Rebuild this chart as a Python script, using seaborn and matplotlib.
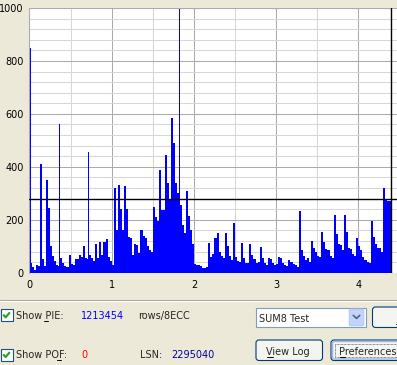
import numpy as np
import pandas as pd
import matplotlib
matplotlib.use("Agg")
import matplotlib.pyplot as plt
import seaborn as sns
from matplotlib.patches import Rectangle, FancyBboxPatch

# ---------------- data ----------------
BIN = 0.025  # width of one PIE bin on the x axis
pie_per_bin = [
    35, 20, 12, 30, 25, 410, 50, 25, 352, 245, 100, 63, 45, 30, 25, 55,
    35, 25, 20, 67, 32, 30, 50, 53, 67, 58, 100, 55, 50, 67, 55, 45,
    110, 55, 117, 65, 115, 127, 60, 45, 30, 321, 160, 331, 240, 160, 328, 240,
    135, 130, 65, 110, 105, 73, 160, 140, 130, 100, 85, 79, 250, 210, 195, 388,
    237, 235, 444, 340, 280, 583, 490, 340, 300, 255, 180, 149, 310, 215, 160, 110,
    33, 30, 30, 25, 16, 16, 20, 113, 60, 70, 130, 149, 80, 62, 55, 150,
    100, 62, 48, 189, 60, 46, 40, 113, 56, 38, 35, 108, 68, 50, 38, 40,
    98, 55, 36, 30, 57, 53, 38, 28, 32, 60, 55, 35, 28, 26, 48, 40,
    32, 28, 23, 233, 85, 62, 48, 55, 42, 120, 92, 79, 62, 60, 155, 115,
    90, 84, 62, 54, 218, 145, 110, 105, 86, 218, 155, 94, 88, 72, 63, 130,
    100, 84, 60, 48, 40, 35, 195, 135, 108, 94, 94, 80, 320, 276, 272, 270,
]
spike_pos = [0.004, 0.356, 0.707, 1.818]
spike_pie = [850, 562, 457, 1000]
threshold = 280
cursor_x = 4.394
x_ticks = [0, 1, 2, 3, 4]
y_ticks = [0, 200, 400, 600, 800, 1000]

pie_total = "1213454"
pof_total = "0"
lsn = "2295040"
test_name = "SUM8 Test"

# ---------------- style ----------------
sns.set_theme(style="white")
plt.rcParams['font.family'] = ['DejaVu Sans']

BG = '#ECE9D8'
W, H = 397, 365
fig = plt.figure(figsize=(W / 100, H / 100), dpi=100, facecolor=BG)

ax_left, ax_top, ax_bottom = 29.5, 8.0, 272.7
px_per_unit = 82.2
ax = fig.add_axes([ax_left / W, (H - ax_bottom) / H, (W - ax_left) / W, (ax_bottom - ax_top) / H])
ax.set_facecolor('white')

bins_df = pd.DataFrame({
    "pos": np.arange(len(pie_per_bin)) * BIN + BIN / 2,
    "pie": np.asarray(pie_per_bin, dtype=float),
})
sns.histplot(data=bins_df, x="pos", weights="pie", binwidth=BIN,
             binrange=(0, BIN * len(pie_per_bin)), color='#0000FF', alpha=1,
             linewidth=0, ax=ax, antialiased=False, zorder=2)

spikes_df = pd.DataFrame({"pos": spike_pos, "pie": np.asarray(spike_pie, dtype=float)})
sns.histplot(data=spikes_df, x="pos", weights="pie", binwidth=1 / px_per_unit,
             binrange=(0, 4.47), color='#0000FF', alpha=1,
             linewidth=0, ax=ax, antialiased=False, zorder=2)

ax.axhline(threshold, color='black', lw=1.0, zorder=3)
ax.axvline(cursor_x, color='black', lw=1.0, zorder=3)

ax.set_xlim(0, (W - ax_left) / px_per_unit)
ax.set_ylim(0, 1000)
ax.set_xticks(x_ticks)
ax.set_xticklabels([str(t) for t in x_ticks])
ax.set_xticks(np.arange(0.5, 4.5, 1.0), minor=True)
ax.set_yticks(y_ticks)
ax.set_yticklabels([str(t) for t in y_ticks])
ax.set_yticks(np.arange(40, 1000, 40), minor=True)
ax.set_axisbelow(True)
ax.grid(which='minor', color='#D6D6D6', lw=0.75)
ax.grid(which='major', color='#ABABAB', lw=0.75)
ax.tick_params(which='both', length=0)
ax.tick_params(axis='y', labelsize=7, pad=4, colors='black')
ax.tick_params(axis='x', labelsize=7, pad=5, colors='black')
ax.set_xlabel('')
ax.set_ylabel('')
for s in ['right', 'bottom']:
    ax.spines[s].set_visible(False)
for s in ['left', 'top']:
    ax.spines[s].set_color('#ABABAB')
    ax.spines[s].set_linewidth(0.75)

# ---------------- dialog controls ----------------
ui = fig.add_axes([0, 0, 1, 1])
ui.set_xlim(0, W)
ui.set_ylim(H, 0)
ui.axis('off')
ui.patch.set_alpha(0)

FS = 7
ui.plot([0, W], [300, 300], color='#ACA899', lw=0.75)
ui.plot([0, W], [301, 301], color='white', lw=0.75)


def checkbox(y0):
    ui.add_patch(Rectangle((0.5, y0), 12, 12, facecolor='white', edgecolor='#1C5180', lw=0.8))
    ui.plot([3.2, 5.6, 9.8], [y0 + 5.8, y0 + 8.6, y0 + 3.6], color='#21A121', lw=1.5,
            solid_capstyle='butt')


checkbox(308.8)
checkbox(348.5)

ui.text(16, 319.3, "Show PIE:", fontsize=FS, va='baseline')
ui.plot([44.3, 47.6], [321, 321], color='black', lw=0.7)
ui.text(80.7, 319.3, pie_total, fontsize=FS, va='baseline', color='#0000FF')
ui.text(138.3, 319.3, "rows/8ECC", fontsize=FS, va='baseline')

ui.text(16, 358.3, "Show POF:", fontsize=FS, va='baseline')
ui.plot([56.8, 61], [360.2, 360.2], color='black', lw=0.7)
ui.text(81, 358.3, pof_total, fontsize=FS, va='baseline', color='#FF0000')
ui.text(140, 358.3, "LSN:", fontsize=FS, va='baseline')
ui.text(171.7, 358.3, lsn, fontsize=FS, va='baseline', color='#0000A0')

# combo box
ui.add_patch(Rectangle((255.5, 307.5), 110, 19.5, facecolor='white', edgecolor='#7F9DB9', lw=0.8))
ui.add_patch(FancyBboxPatch((349.3, 309.2), 14.5, 16.5, boxstyle='round,pad=0,rounding_size=1.5',
                            facecolor='#C3D4FB', edgecolor='#B4C8F5', lw=0.8))
ui.plot([353.3, 356.5, 359.7], [315.4, 318.4, 315.4], color='#4D6185', lw=1.2)
ui.text(259.3, 321.7, test_name, fontsize=FS, va='baseline')


def button(x, y, w, h, label, tx, ul, default=False):
    ui.add_patch(FancyBboxPatch((x, y), w, h, boxstyle='round,pad=0,rounding_size=3',
                                facecolor='#F4F4F0', edgecolor='#003C74', lw=0.8))
    if default:
        ui.add_patch(FancyBboxPatch((x + 1.5, y + 1.5), w - 3, h - 3,
                                    boxstyle='round,pad=0,rounding_size=2',
                                    facecolor='none', edgecolor='#9CB6E8', lw=1.0))
        ui.add_patch(Rectangle((x + 4, y + 3.5), w - 8, h - 7, facecolor='none',
                               edgecolor='#333333', lw=0.5, ls=(0, (1, 1))))
    if label:
        ui.text(tx, y + 15, label, fontsize=FS, va='baseline')
    if ul:
        ui.plot(ul, [y + 16.5, y + 16.5], color='black', lw=0.7)


# right-hand button is cut off by the window edge; only its frame and accelerator mark show
button(372.5, 307, 32, 20.5, None, 0, [395.8, 402])
button(256, 340, 66.5, 20.5, "View Log", 266.5, [266.7, 272.7])
button(331, 340, 72, 20.5, "Preferences", 339.3, [339.5, 345.2], default=True)

fig.savefig("out.png", dpi=100, facecolor=BG)
